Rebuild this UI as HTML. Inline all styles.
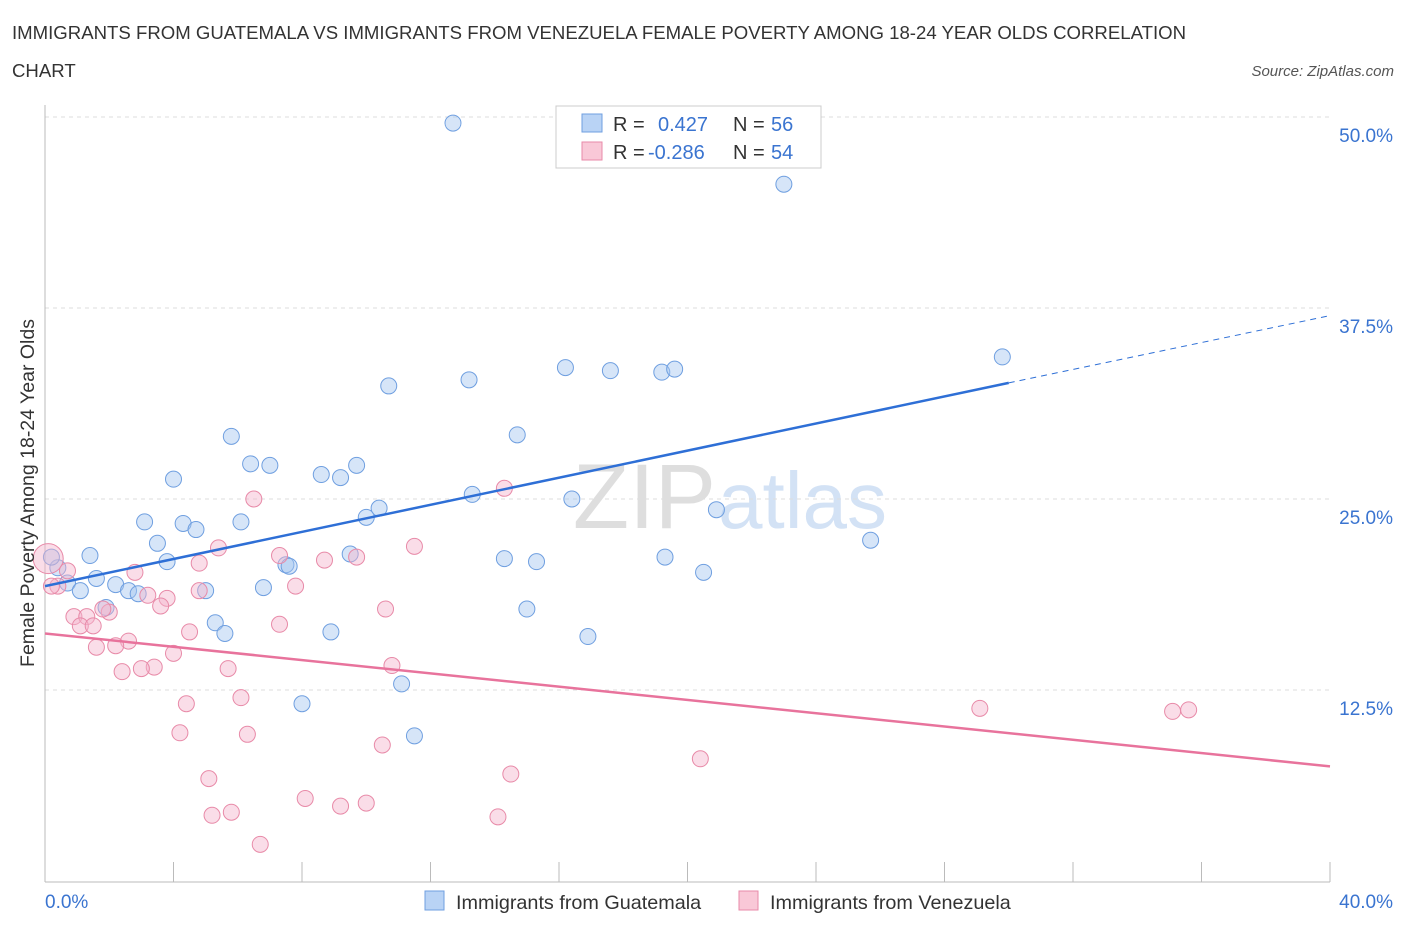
<!DOCTYPE html>
<html><head><meta charset="utf-8">
<style>
body{margin:0;background:#fff;font-family:"Liberation Sans",sans-serif;}
svg text{font-family:"Liberation Sans",sans-serif;}
</style></head><body>
<svg id="chart" width="1406" height="930" xmlns="http://www.w3.org/2000/svg">
<text x="12" y="39" font-size="18.6" fill="#333">IMMIGRANTS FROM GUATEMALA VS IMMIGRANTS FROM VENEZUELA FEMALE POVERTY AMONG 18-24 YEAR OLDS CORRELATION</text>
<text x="12" y="77" font-size="18.6" fill="#333">CHART</text>
<text x="1394" y="76" font-size="15" fill="#555" font-style="italic" text-anchor="end">Source: ZipAtlas.com</text>
<text x="716" y="528" font-size="92" fill="#dedede" font-family="Liberation Serif" text-anchor="end">ZIP</text>
<text x="718" y="528" font-size="80" fill="#d3e2f5">atlas</text>
<g id="grid"></g>
<g id="axes"></g>
<g id="pts"></g>
<g id="lines"></g>
<text x="34" y="493" font-size="19.5" fill="#333" text-anchor="middle" transform="rotate(-90 34 493)">Female Poverty Among 18-24 Year Olds</text>
<text x="45" y="908" font-size="19" fill="#3a74d0">0.0%</text>
<text x="1393" y="908" font-size="19" fill="#3a74d0" text-anchor="end">40.0%</text>
<g>
<rect x="556" y="106" width="265" height="62" fill="#fff" stroke="#ccc"/>
<rect x="582" y="114" width="20" height="18" fill="#b9d3f5" stroke="#6f9fe0"/>
<rect x="582" y="142" width="20" height="18" fill="#f9c8d7" stroke="#e88aa8"/>
<text x="613" y="131" font-size="20" fill="#333">R =</text><text x="658" y="131" font-size="20" fill="#3a74d0">0.427</text>
<text x="733" y="131" font-size="20" fill="#333">N =</text><text x="771" y="131" font-size="20" fill="#3a74d0">56</text>
<text x="613" y="159" font-size="20" fill="#333">R =</text><text x="648" y="159" font-size="20" fill="#3a74d0">-0.286</text>
<text x="733" y="159" font-size="20" fill="#333">N =</text><text x="771" y="159" font-size="20" fill="#3a74d0">54</text>
</g>
<g>
<rect x="425" y="891" width="19" height="19" fill="#b9d3f5" stroke="#6f9fe0"/>
<text x="456" y="909" font-size="19.8" fill="#333">Immigrants from Guatemala</text>
<rect x="739" y="891" width="19" height="19" fill="#f9c8d7" stroke="#e88aa8"/>
<text x="770" y="909" font-size="19.8" fill="#333">Immigrants from Venezuela</text>
</g>
</svg>
<script>
const yTicks=[12.5,25,37.5,50];
const yTickLabels=["12.5%","25.0%","37.5%","50.0%"];
const xTicks=[0,4,8,12,16,20,24,28,32,36,40];
const guatemalaX=[12.7,23.0,29.8,16.2,17.6,19.2,19.6,13.2,10.7,5.8,14.7,6.4,7.0,8.6,9.2,9.7,4.0,13.3,16.4,10.4,10.0,20.9,3.1,4.3,6.1,4.7,3.5,25.7,1.4,9.5,14.3,15.3,19.3,3.8,7.5,7.6,20.5,0.4,1.6,0.7,2.2,1.1,2.6,2.9,5.0,6.8,15.0,1.9,5.3,5.6,8.9,16.9,11.1,8.0,11.5,0.2];
const guatemalaY=[49.6,45.6,34.3,33.6,33.4,33.3,33.5,32.8,32.4,29.1,29.2,27.3,27.2,26.6,26.4,27.2,26.3,25.3,25.0,24.4,23.8,24.3,23.5,23.4,23.5,23.0,22.1,22.3,21.3,21.4,21.1,20.9,21.2,20.9,20.7,20.6,20.2,20.5,19.8,19.5,19.4,19.0,19.0,18.8,19.0,19.2,17.8,17.9,16.9,16.2,16.3,16.0,12.9,11.6,9.5,21.2];
const venezuelaX=[0.1,6.5,14.3,5.4,11.5,7.3,8.7,9.7,4.8,0.7,2.8,7.8,0.4,0.2,4.8,3.2,3.8,3.6,10.6,2.0,1.8,0.9,1.3,1.1,1.5,7.3,4.5,2.6,1.6,2.2,4.0,10.8,3.4,3.0,2.4,5.7,6.1,4.4,29.1,35.1,35.6,4.2,6.3,10.5,20.4,14.5,5.1,8.1,10.0,9.2,5.8,5.2,14.1,6.7];
const venezuelaY=[21.1,25.0,25.7,21.8,21.9,21.3,21.0,21.2,20.8,20.3,20.2,19.3,19.3,19.3,19.0,18.7,18.5,18.0,17.8,17.6,17.8,17.3,17.3,16.7,16.7,16.8,16.3,15.7,15.3,15.4,14.9,14.1,14.0,13.9,13.7,13.9,12.0,11.6,11.3,11.1,11.2,9.7,9.6,8.9,8.0,7.0,6.7,5.4,5.1,4.9,4.5,4.3,4.2,2.4];
const blueTrend=[0,19.3,30,32.6,40,37.0];
const pinkTrend=[0,16.2,40,7.5];
const X=v=>45+v*32.125, Y=v=>881-v*15.28;
const NS="http://www.w3.org/2000/svg";
function mk(p,t,a){const e=document.createElementNS(NS,t);for(const k in a)e.setAttribute(k,a[k]);document.getElementById(p).appendChild(e);return e;}
yTicks.forEach((t,i)=>{
 const l=mk('grid','line',{x1:45,x2:1330,y1:Y(t),y2:Y(t),stroke:'#ddd','stroke-dasharray':'4,4'});
 
 
 const tx=mk('grid','text',{x:1393,y:Y(t)+25,'font-size':19,fill:'#3a74d0','text-anchor':'end'});
 tx.textContent=yTickLabels[i];
 
 
});
let a=mk('axes','line',{x1:45,x2:45,y1:105,y2:882,stroke:'#bbb'});


a=mk('axes','line',{x1:45,x2:1330,y1:882,y2:882,stroke:'#bbb'});


xTicks.forEach(t=>{
 const l=mk('axes','line',{x1:X(t),x2:X(t),y1:862,y2:882,stroke:'#bbb'});
 
 
});
guatemalaX.forEach((x,i)=>{
 const c=mk('pts','circle',{cx:X(x),cy:Y(guatemalaY[i]),r:8,fill:'rgba(165,198,240,0.45)',stroke:'#6f9fe0','stroke-width':1});
 
 
});
venezuelaX.forEach((x,i)=>{
 const c=mk('pts','circle',{cx:X(x),cy:Y(venezuelaY[i]),r:i==0?15:8,fill:'rgba(244,180,204,0.45)',stroke:'#e88aa8','stroke-width':1});
 
 
});
let l=mk('lines','line',{x1:X(blueTrend[0]),y1:Y(blueTrend[1]),x2:X(blueTrend[2]),y2:Y(blueTrend[3]),stroke:'#2e6fd6','stroke-width':2.5});


l=mk('lines','line',{x1:X(blueTrend[2]),y1:Y(blueTrend[3]),x2:X(blueTrend[4]),y2:Y(blueTrend[5]),stroke:'#2e6fd6','stroke-width':1,'stroke-dasharray':'6,5'});


l=mk('lines','line',{x1:X(pinkTrend[0]),y1:Y(pinkTrend[1]),x2:X(pinkTrend[2]),y2:Y(pinkTrend[3]),stroke:'#e8739c','stroke-width':2.5});


</script>
</body></html>
